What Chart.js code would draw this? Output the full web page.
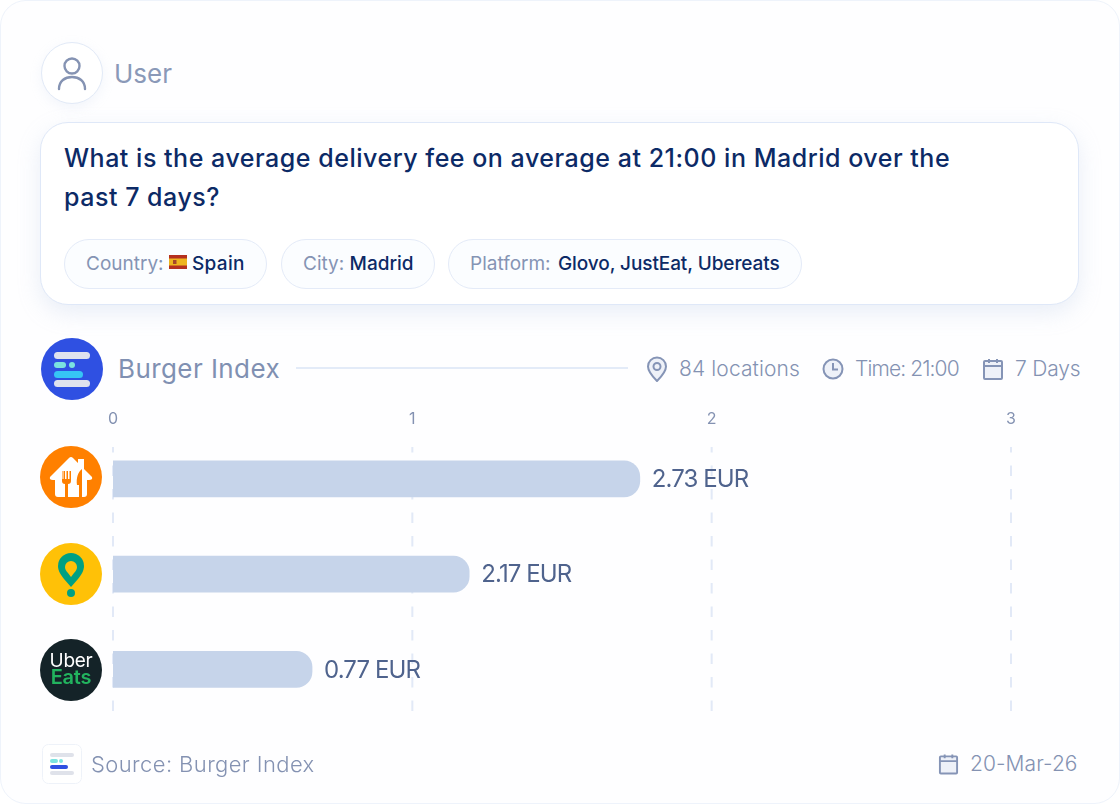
<!DOCTYPE html>
<html>
<head>
<meta charset="utf-8">
<title>Burger Index</title>
<script src="https://cdn.jsdelivr.net/npm/chart.js@4"></script>
<style>
  html, body { margin: 0; padding: 0; background: #fff; }
  body { width: 1120px; height: 804px; position: relative; overflow: hidden; font-family: Inter, "Noto Sans", sans-serif; }
  .abs { position: absolute; white-space: nowrap; }
  #card { left: 0; top: 0; width: 1118px; height: 802px; border: 1px solid #eef3fb; border-radius: 26px; background: #fefeff; }
  #avatar { left: 41px; top: 42px; width: 60px; height: 60px; border: 1.5px solid #e2eaf7; border-radius: 50%; background: #fff; box-shadow: 0 4px 12px rgba(190,205,235,.18); }
  #question { left: 40px; top: 122px; width: 1037px; height: 181px; border: 1.5px solid #dfe8f8; border-radius: 28px; background: #fff; box-shadow: 0 8px 22px rgba(175,192,225,.26); }
  .q { left: 64px; font-size: 25px; line-height: 38px; font-weight: 500; color: #0c2a66; letter-spacing: .52px; }
  .chip { top: 239px; height: 48px; border: 1.5px solid #e4ebf8; border-radius: 25px; background: #fbfdff; }
  .chipText { top: 250px; font-size: 19px; line-height: 27px; color: #8594b4; }
  .chipText b { font-weight: 500; color: #0c2a66; }
  .meta { font-size: 21px; line-height: 28px; font-weight: 300; color: #8492b2; }
  #chartWrap { left: 0; top: 400px; width: 1120px; height: 330px; }
</style>
</head>
<body>
<div id="card" class="abs"></div>

<div id="avatar" class="abs"></div>
<svg class="abs" style="left:56px;top:56px" width="32" height="36" viewBox="0 0 32 36" fill="none" stroke="#8593b3" stroke-width="2.4">
  <circle cx="16" cy="10" r="7.5"/><path d="M3 33c0-8 6-12 13-12s13 4 13 12" stroke-linecap="round"/>
</svg>
<div class="abs" style="left:114px;top:58px;font-size:26px;line-height:32px;color:#8a99b8">User</div>

<div id="question" class="abs"></div>
<div class="abs q" style="top:139px">What is the average delivery fee on average at 21:00 in Madrid over the</div>
<div class="abs q" style="top:178px">past 7 days?</div>

<div class="abs chip" style="left:64px;width:201px"></div>
<div class="abs chipText" style="left:86px">Country:</div>
<svg class="abs" style="left:169px;top:255px" width="18" height="14" viewBox="0 0 18 14">
  <rect width="18" height="14" fill="#b5301f"/><rect y="3.5" width="18" height="7" fill="#eeb51f"/><rect x="4" y="5" width="3.5" height="4" fill="#a5472a"/>
</svg>
<div class="abs chipText" style="left:192px;letter-spacing:.3px"><b>Spain</b></div>
<div class="abs chip" style="left:281px;width:152px"></div>
<div class="abs chipText" style="left:303px">City: <b>Madrid</b></div>
<div class="abs chip" style="left:448px;width:352px"></div>
<div class="abs chipText" style="left:470px">Platform: <b style="margin-left:2px;letter-spacing:-.09px">Glovo, JustEat, Ubereats</b></div>

<svg class="abs" style="left:41px;top:338px" width="62" height="62" viewBox="0 0 62 62">
  <circle cx="31" cy="31" r="31" fill="#2f50e2"/>
  <rect x="13" y="14" width="36" height="7" rx="3.5" fill="#dfe2ee"/>
  <rect x="13" y="24" width="12" height="6" rx="3" fill="#7be3e0"/><circle cx="31" cy="27" r="3" fill="#7be3e0"/>
  <rect x="13" y="33" width="29" height="7" rx="3.5" fill="#36c5f5"/>
  <rect x="13" y="42" width="36" height="7" rx="3.5" fill="#dfe2ee"/>
</svg>
<div class="abs" style="left:118px;top:353px;font-size:26px;line-height:32px;color:#8090b2;letter-spacing:.42px">Burger Index</div>
<div class="abs" style="left:296px;top:367px;width:332px;height:2px;background:#e3ebf8"></div>

<svg class="abs" style="left:646px;top:356px" width="22" height="26" viewBox="0 0 22 26" fill="none" stroke="#8594b6" stroke-width="2">
  <path d="M11 25C6 20 2 15 2 10.500a9 9 0 0 1 18 0C20 15 16 20 11 25z" fill="#eef1f8"/><circle cx="11" cy="10.500" r="3.500"/>
</svg>
<div class="abs meta" style="left:679px;top:355px;letter-spacing:.12px">84 locations</div>
<svg class="abs" style="left:822px;top:358px" width="22" height="22" viewBox="0 0 22 22" fill="none" stroke="#8594b6" stroke-width="2">
  <circle cx="11" cy="11" r="9.500" fill="#eef1f8"/><path d="M11 5v6.500h5"/>
</svg>
<div class="abs meta" style="left:855px;top:355px;letter-spacing:-.9px">Time: 21:00</div>
<svg class="abs" style="left:982px;top:358px" width="22" height="22" viewBox="0 0 22 22" fill="none" stroke="#8594b6" stroke-width="2">
  <rect x="2" y="3" width="18" height="18" rx="1" fill="#eef1f8"/><path d="M2 8h18M7 1v4M15 1v4"/>
</svg>
<div class="abs meta" style="left:1015px;top:355px;letter-spacing:-.2px">7 Days</div>

<div id="chartWrap" class="abs"><canvas id="burgerChart" width="1120" height="330"></canvas></div>

<!-- platform logos -->
<svg class="abs" style="left:40px;top:446px" width="62" height="62" viewBox="0 0 62 62">
  <circle cx="31" cy="31" r="31" fill="#ff8000"/>
  <path d="M10 31 L29 12 Q31 10 33 12 L38 17 L38 13 L44 13 L44 23 L52 31 Q53 34 49 34 L47 34 L47 48 Q47 51 44 51 L18 51 Q15 51 15 48 L15 34 L13 34 Q9 34 10 31z" fill="#fff"/>
  <path d="M22 25v10c0 2 1 3 3 3v13h3V38c2 0 3-1 3-3V25h-1.500v8h-1.500v-8h-1.500v8h-1.500v-8h-1.500v8h-1v-8z" fill="#ff8000"/>
  <path d="M42 23c-4 3-6 9-5 16h2v12h3z" fill="#ff8000"/>
</svg>
<svg class="abs" style="left:40px;top:543px" width="62" height="62" viewBox="0 0 62 62">
  <circle cx="31" cy="31" r="31" fill="#ffc107"/>
  <path d="M31 10a13 13 0 0 0-13 13c0 5 3 9 6 13l7 8 7-8c3-4 6-8 6-13a13 13 0 0 0-13-13z" fill="#00a082"/>
  <path d="M31 18a6 6 0 0 0-6 6c0 2 1 4 3 6l3 4 3-4c2-2 3-4 3-6a6 6 0 0 0-6-6z" fill="#ffc107"/>
  <circle cx="31" cy="50" r="4" fill="#00a082"/>
</svg>
<svg class="abs" style="left:40px;top:639px" width="62" height="62" viewBox="0 0 62 62">
  <circle cx="31" cy="31" r="31" fill="#142328"/>
  <text x="31" y="28" text-anchor="middle" font-family="Inter" font-size="19" letter-spacing="-.3" fill="#fff">Uber</text>
  <text x="31" y="45" text-anchor="middle" font-family="Inter" font-weight="600" font-size="20" letter-spacing="-.2" fill="#22b35e">Eats</text>
</svg>

<!-- footer -->
<svg class="abs" style="left:42px;top:744px" width="40" height="40" viewBox="0 0 40 40">
  <rect x=".5" y=".5" width="39" height="39" rx="6" fill="#fff" stroke="#eef2f9"/>
  <rect x="8" y="9" width="24" height="4" rx="2" fill="#dfe2ea"/>
  <rect x="8" y="15" width="8" height="4" rx="2" fill="#7be3e0"/><circle cx="19" cy="17" r="2" fill="#7be3e0"/>
  <rect x="8" y="21" width="18" height="4" rx="2" fill="#2f50e2"/>
  <rect x="8" y="27" width="24" height="4" rx="2" fill="#dfe2ea"/>
</svg>
<div class="abs" style="left:91px;top:749px;font-size:22px;line-height:30px;font-weight:300;color:#8492b2;letter-spacing:.4px">Source: Burger Index</div>
<svg class="abs" style="left:938px;top:753px" width="21" height="22" viewBox="0 0 22 22" fill="none" stroke="#8594b6" stroke-width="2">
  <rect x="2" y="3" width="18" height="18" rx="1" fill="#eef1f8"/><path d="M2 8h18M7 1v4M15 1v4"/>
</svg>
<div class="abs meta" style="left:970px;top:750px;letter-spacing:.08px">20-Mar-26</div>

<script>
const platforms = ['JustEat', 'Glovo', 'Ubereats'];
// the printed fees do not follow the axis in the source image, so both are kept
const feeLabels = ['2.73 EUR', '2.17 EUR', '0.77 EUR'];
const barValues = [1.76, 1.19, 0.665];
const axisTicks = [0, 1, 2, 3];

const dashedGrid = {
  id: 'dashedGrid',
  beforeDatasetsDraw(chart) {
    const { ctx, scales: { x } } = chart;
    ctx.save();
    ctx.strokeStyle = '#e2e9f7';
    ctx.lineWidth = 2;
    ctx.setLineDash([10.5, 13]);
    ctx.lineDashOffset = 5;
    axisTicks.forEach(t => {
      const px = x.getPixelForValue(t);
      ctx.beginPath();
      ctx.moveTo(px, 47);
      ctx.lineTo(px, 311);
      ctx.stroke();
    });
    ctx.restore();
  }
};

const feeText = {
  id: 'feeText',
  afterDatasetsDraw(chart) {
    const { ctx } = chart;
    const bars = chart.getDatasetMeta(0).data;
    ctx.save();
    ctx.font = '400 24px Inter';
    ctx.letterSpacing = '-0.9px';
    ctx.fillStyle = '#4f638d';
    ctx.textBaseline = 'middle';
    bars.forEach((b, i) => ctx.fillText(feeLabels[i], b.x + 12, b.y + 1));
    ctx.restore();
  }
};

new Chart(document.getElementById('burgerChart').getContext('2d'), {
  type: 'bar',
  data: {
    labels: platforms,
    datasets: [{
      data: barValues,
      backgroundColor: '#c6d4ea',
      barThickness: 36,
      borderRadius: { topRight: 16, bottomRight: 16 },
      borderSkipped: false
    }]
  },
  options: {
    indexAxis: 'y',
    responsive: false,
    animation: false,
    layout: { padding: { left: 113, right: 109, top: 8, bottom: 13 } },
    plugins: { legend: { display: false }, tooltip: { enabled: false } },
    scales: {
      x: {
        position: 'top',
        min: 0,
        max: 3,
        afterBuildTicks: axis => { axis.ticks = axisTicks.map(value => ({ value })); },
        grid: { display: false, drawTicks: false },
        border: { display: false },
        ticks: { color: '#8492b2', font: { family: 'Inter', size: 16, weight: 400 }, padding: 2, maxRotation: 0 }
      },
      y: { display: false }
    }
  },
  plugins: [dashedGrid, feeText]
});
</script>
</body>
</html>
